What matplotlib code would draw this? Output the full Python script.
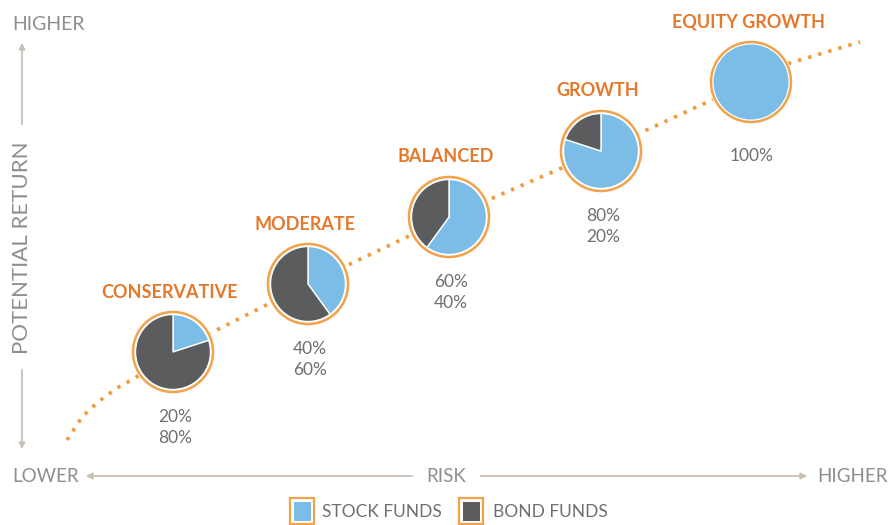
import matplotlib.pyplot as plt
from matplotlib.patches import Circle, Rectangle

# Portfolio data
portfolios = ['CONSERVATIVE', 'MODERATE', 'BALANCED', 'GROWTH', 'EQUITY GROWTH']
stock_pct = [20, 40, 60, 80, 100]
bond_pct = [80, 60, 40, 20, 0]
legend_labels = ['STOCK FUNDS', 'BOND FUNDS']

# layout (pixel positions, y measured from top)
W, H = 892, 525
pie_x = [173, 308, 449, 601, 751]
pie_y = [352, 284, 217, 151, 82]
path_x = [67, 82, 98, 117, 135, 173, 308, 449, 601, 751, 790, 860]
path_y = [440, 417, 402, 388, 378, 352, 284, 217, 151, 82, 63, 42]

BLUE = '#7BBDE6'
DARK = '#5B5C5E'
ORANGE = '#E5782A'
RING = '#F2A24A'
DOTS = '#F39A3C'
GREY_TXT = '#8E8E8E'
PCT_TXT = '#6E6F71'
AXIS = '#C9C0B8'
FONT = 'Lato'


def fy(py):
    return H - py


fig = plt.figure(figsize=(W / 100, H / 100), dpi=100)
ax = fig.add_axes([0, 0, 1, 1])

# dotted risk/return path
ax.plot(path_x, [fy(v) for v in path_y], color=DOTS, lw=2.7,
        linestyle=(0, (0.9, 1.9)), zorder=1)

for i, name in enumerate(portfolios):
    cx, cy = pie_x[i], fy(pie_y[i])
    ax.add_patch(Circle((cx, cy), 42, facecolor='white', edgecolor='none', zorder=2))
    ax.add_patch(Circle((cx, cy), 40, facecolor='white', edgecolor=RING, lw=1.8, zorder=3))
    vals = [v for v in (stock_pct[i], bond_pct[i]) if v > 0]
    cols = [c for v, c in zip((stock_pct[i], bond_pct[i]), (BLUE, DARK)) if v > 0]
    wedges, _ = ax.pie(vals, colors=cols, center=(cx, cy), radius=37.5,
                       startangle=90, counterclock=False,
                       wedgeprops=dict(edgecolor='white', linewidth=1 if len(vals) > 1 else 0))
    for w in wedges:
        w.set_zorder(4)
    ax.text(cx - 3, cy + 60, name, ha='center', va='center', color=ORANGE,
            fontsize=13, fontweight='bold', family=FONT)
    if bond_pct[i] > 0:
        ax.text(cx + 2, cy - 65, f'{stock_pct[i]}%', ha='center', va='center',
                color=PCT_TXT, fontsize=12.5, family=FONT)
        ax.text(cx + 2, cy - 86, f'{bond_pct[i]}%', ha='center', va='center',
                color=PCT_TXT, fontsize=12.5, family=FONT)
    else:
        ax.text(cx + 1, cy - 74, f'{stock_pct[i]}%', ha='center', va='center',
                color=PCT_TXT, fontsize=12.5, family=FONT)

# vertical axis (potential return)
arrow = dict(arrowstyle='-|>', color=AXIS, lw=1.3, mutation_scale=9)
ax.annotate('', xy=(22, fy(40)), xytext=(22, fy(127)), arrowprops=arrow)
ax.annotate('', xy=(22, fy(452)), xytext=(22, fy(367)), arrowprops=arrow)
ax.text(22, fy(248), 'POTENTIAL RETURN', rotation=90, ha='center', va='center',
        color=GREY_TXT, fontsize=16, family=FONT)
ax.text(12, fy(24), 'HIGHER', ha='left', va='center', color=GREY_TXT,
        fontsize=14, family=FONT)

# horizontal axis (risk)
ax.annotate('', xy=(83, fy(476)), xytext=(415, fy(476)), arrowprops=arrow)
ax.annotate('', xy=(810, fy(476)), xytext=(478, fy(476)), arrowprops=arrow)
ax.text(12, fy(476), 'LOWER', ha='left', va='center', color=GREY_TXT,
        fontsize=13.5, family=FONT)
ax.text(446, fy(476), 'RISK', ha='center', va='center', color=GREY_TXT,
        fontsize=13.5, family=FONT)
ax.text(888, fy(476), 'HIGHER', ha='right', va='center', color=GREY_TXT,
        fontsize=13.5, family=FONT)

# legend
for lx, tx, col, lab in [(290, 322, BLUE, legend_labels[0]), (459, 493, DARK, legend_labels[1])]:
    ax.add_patch(Rectangle((lx, fy(524)), 24, 26, facecolor='white', edgecolor=RING, lw=1.6))
    ax.add_patch(Rectangle((lx + 3.5, fy(521)), 17, 19, facecolor=col, edgecolor='none'))
    ax.text(tx, fy(512), lab, ha='left', va='center', color=PCT_TXT,
            fontsize=12.5, family=FONT)

ax.set_xlim(0, W)
ax.set_ylim(0, H)
ax.set_aspect('auto')
ax.axis('off')

fig.savefig('out.png', dpi=100, facecolor='white')
